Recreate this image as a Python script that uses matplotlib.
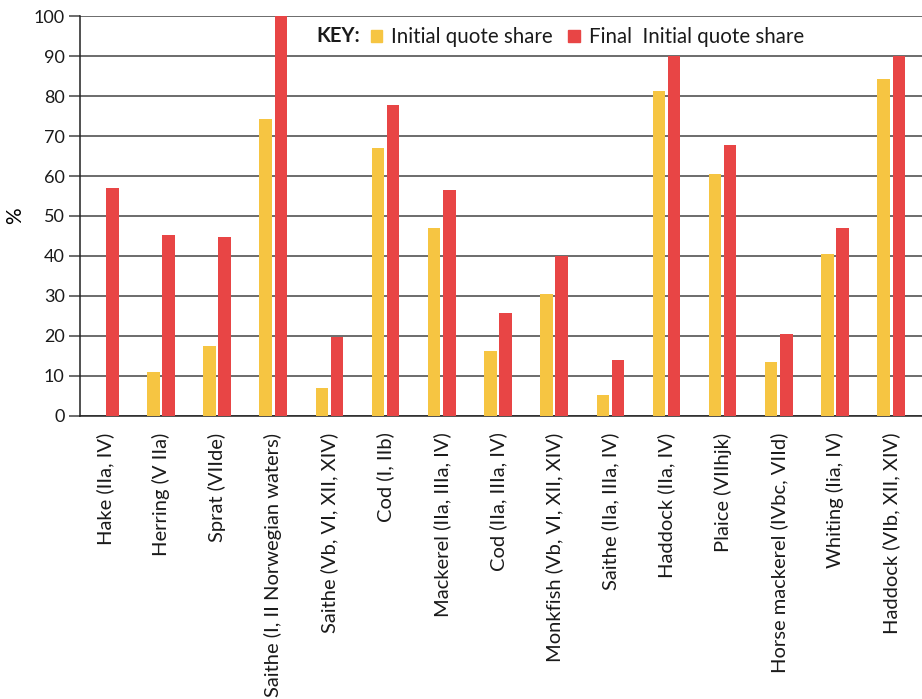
import numpy as np
import matplotlib
matplotlib.use('Agg')
import matplotlib.pyplot as plt
from matplotlib.patches import Patch

STOCKS = ['Hake (IIa, IV)', 'Herring (V IIa)', 'Sprat (VIIde)',
          'Saithe (I, II Norwegian waters)', 'Saithe (Vb, VI, XII, XIV)',
          'Cod (I, IIb)', 'Mackerel (IIa, IIIa, IV)', 'Cod (IIa, IIIa, IV)',
          'Monkfish (Vb, VI, XII, XIV)', 'Saithe (IIa, IIIa, IV)',
          'Haddock (IIa, IV)', 'Plaice (VIIhjk)', 'Horse mackerel (IVbc, VIId)',
          'Whiting (Iia, IV)', 'Haddock (VIb, XII, XIV)']
INITIAL = [0, 11, 17.5, 74.2, 6.9, 67.1, 47, 16.3, 30.5, 5.2, 81.3, 60.6, 13.4, 40.5, 84.2]
FINAL = [57, 45.2, 44.7, 100, 19.8, 77.7, 56.5, 25.8, 40, 14, 90, 67.7, 20.5, 47, 90]

YELLOW = '#F6C542'
RED = '#E84545'
TXT = '#1a1a1a'

plt.rcParams['font.family'] = ['Lato', 'DejaVu Sans']
plt.rcParams['text.color'] = TXT

fig = plt.figure(figsize=(9.22, 6.99), dpi=100)
ax = fig.add_axes([0.0868, 0.405, 0.9132, 0.572])

x = np.arange(len(STOCKS))
w = 0.22
ax.bar(x - 0.135, INITIAL, w, color=YELLOW, zorder=3)
ax.bar(x + 0.135, FINAL, w, color=RED, zorder=3)

ax.set_xlim(-0.44, 14.55)
ax.set_ylim(0, 100)
ax.set_yticks(range(0, 101, 10))
ax.yaxis.grid(True, color='#444444', linewidth=1.1, zorder=0)
ax.set_axisbelow(True)

ax.set_xticks(x)
ax.set_xticklabels(STOCKS, rotation=90, fontsize=14.5, color=TXT)
ax.tick_params(axis='x', length=0, pad=12)
ax.tick_params(axis='y', length=8, width=1.1, color='#444444', labelsize=13,
               labelcolor=TXT, pad=3)

for s in ['top', 'right']:
    ax.spines[s].set_visible(False)
ax.spines['left'].set_color('#222222')
ax.spines['bottom'].set_color('#222222')
ax.spines['left'].set_linewidth(1.1)
ax.spines['bottom'].set_linewidth(1.1)

ax.set_ylabel('%', fontsize=15, labelpad=6)

# key
fig.text(0.343, 0.948, 'KEY:', fontsize=14.5, fontweight='bold', va='center')
handles = [Patch(color=YELLOW), Patch(color=RED)]
leg = ax.legend(handles, ['Initial quote share', 'Final  Initial quote share'],
                loc='center left', bbox_to_anchor=(0.402, 0.947), bbox_transform=fig.transFigure,
                ncol=2, frameon=False, fontsize=14.8, handlelength=0.55, handleheight=0.55,
                handletextpad=0.45, columnspacing=0.75, borderaxespad=0, borderpad=0)
for t in leg.get_texts():
    t.set_color(TXT)

fig.savefig('out.png', dpi=100)
